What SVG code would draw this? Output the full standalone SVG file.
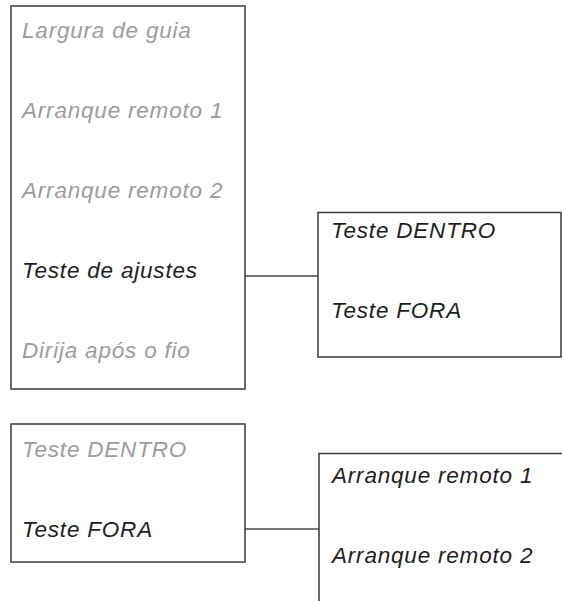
<svg xmlns="http://www.w3.org/2000/svg" width="562" height="601" viewBox="0 0 562 601">
<style>
.box{fill:#fff;stroke:#3a3a3a;stroke-width:1.5}
.conn{stroke:#4a4a4a;stroke-width:1.4;fill:none}
text{font-family:"Liberation Sans",Arial,sans-serif;font-style:italic;font-size:22.5px;letter-spacing:0.8px}
.dim{fill:#9c9c9c}
.on{fill:#1e1e1e}
</style>
<rect width="562" height="601" fill="#fff"/>
<g id="connectors">
<line class="conn" x1="245" y1="276" x2="318" y2="276"/>
<line class="conn" x1="245" y1="529" x2="319" y2="529"/>
</g>
<g id="menu1">
<rect class="box" x="11" y="6" width="234" height="383"/>
<text class="dim" x="22" y="38">Largura de guia</text>
<text class="dim" x="22" y="118">Arranque remoto 1</text>
<text class="dim" x="22" y="198">Arranque remoto 2</text>
<text class="on" x="22" y="278">Teste de ajustes</text>
<text class="dim" x="22" y="358">Dirija após o fio</text>
</g>
<g id="menu2">
<rect class="box" x="318" y="212.5" width="243" height="144.5"/>
<text class="on" x="331" y="237.5">Teste DENTRO</text>
<text class="on" x="331" y="318">Teste FORA</text>
</g>
<g id="menu3">
<rect class="box" x="11" y="424" width="234" height="138"/>
<text class="dim" x="22" y="457">Teste DENTRO</text>
<text class="on" x="22" y="537">Teste FORA</text>
</g>
<g id="menu4">
<path class="box" d="M319 601 V453.5 H562" fill="none"/>
<text class="on" x="332" y="483">Arranque remoto 1</text>
<text class="on" x="332" y="563">Arranque remoto 2</text>
</g>
</svg>
